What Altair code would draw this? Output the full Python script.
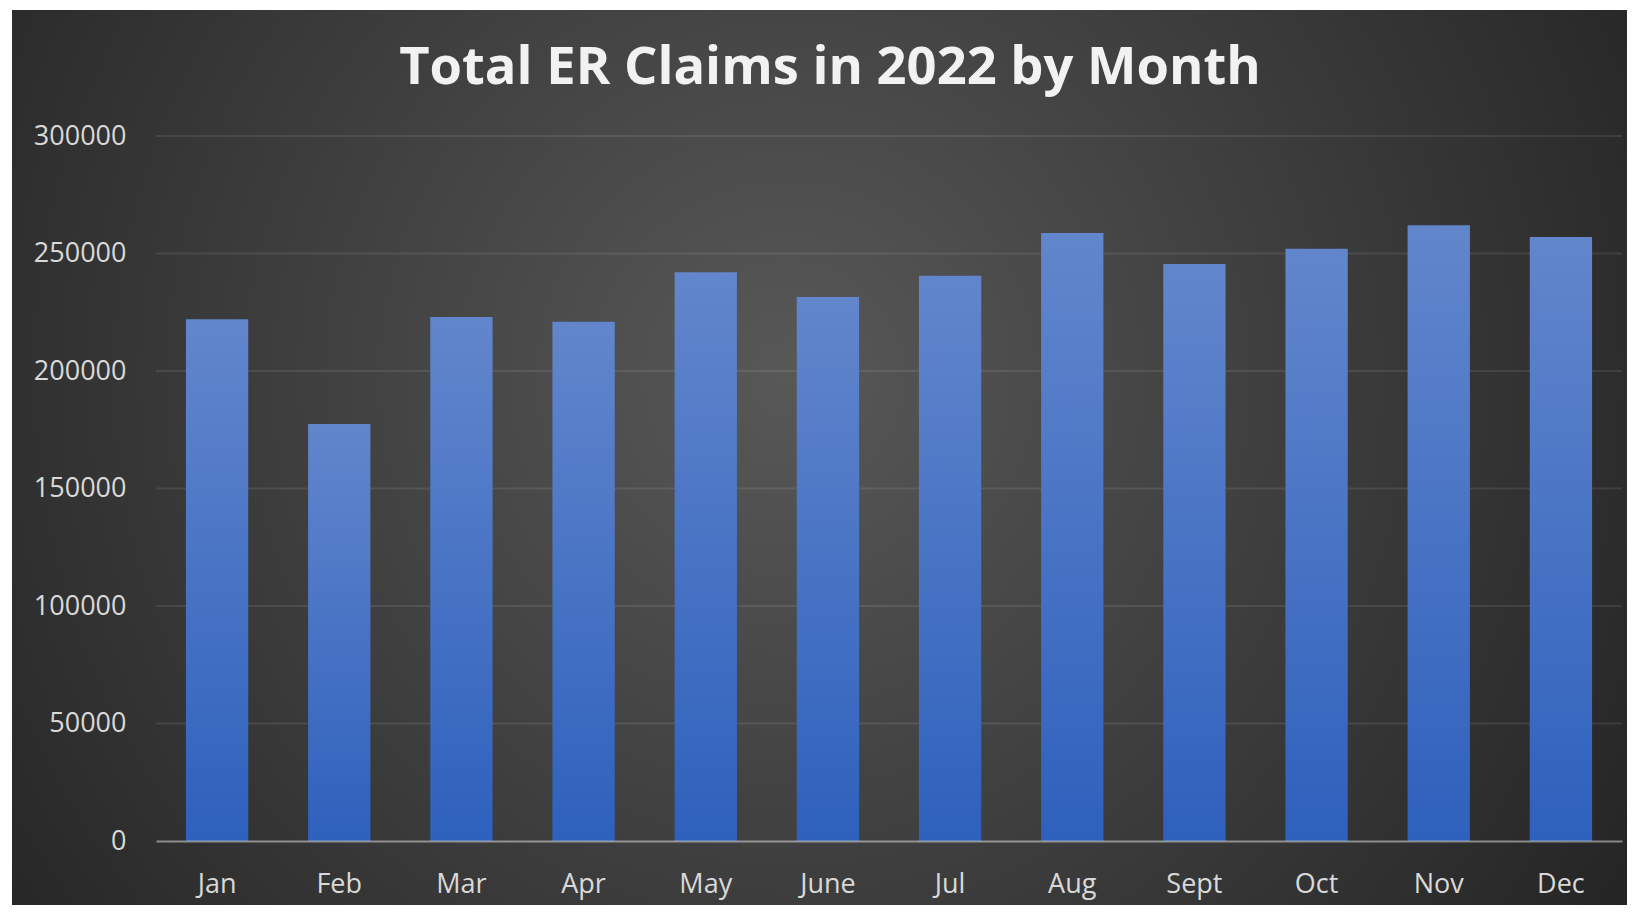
import altair as alt
import pandas as pd

months = ["Jan", "Feb", "Mar", "Apr", "May", "June", "Jul", "Aug", "Sept", "Oct", "Nov", "Dec"]
claims = [222000, 177500, 223000, 221000, 242000, 231500, 240500, 258700, 245500, 252000, 262000, 257000]
tick_values = [0, 50000, 100000, 150000, 200000, 250000, 300000]
grid_values = [50000, 100000, 150000, 200000, 250000, 300000]

W, H = 1466, 705
PAD = {"left": 148, "top": 128, "right": 5, "bottom": 64}

df = pd.DataFrame({"month": months, "claims": claims})
grid_df = pd.DataFrame({"claims": grid_values})
one = pd.DataFrame({"a": [0]})

yscale = alt.Scale(domain=[0, 300000], nice=False)
xscale = alt.Scale(paddingInner=0.49, paddingOuter=0.245)

xaxis = alt.Axis(
    labelAngle=0, labelAlign="center", labelFontSize=27, labelColor="#d9d9d9",
    labelFont="Open Sans", labelPadding=51, labelBaseline="alphabetic",
    ticks=False, tickSize=0, domain=True, domainColor="white",
    domainOpacity=0.45, domainWidth=2, grid=False, zindex=1, title=None,
)
yaxis = alt.Axis(
    values=tick_values, format="d", labelFontSize=27, labelColor="#d9d9d9",
    labelFont="Open Sans", labelPadding=30, ticks=False, tickSize=0,
    domain=False, grid=False, zindex=1, title=None,
)
xenc = alt.X("month:N", sort=months, scale=xscale, axis=xaxis)
yenc = alt.Y("claims:Q", scale=yscale, axis=yaxis)

bg = alt.Chart(one).mark_rect(
    color={
        "gradient": "radial",
        "x1": 0.48, "y1": 0.45, "r1": 0,
        "x2": 0.48, "y2": 0.45, "r2": 0.62,
        "stops": [
            {"offset": 0, "color": "#585858"},
            {"offset": 1, "color": "#242424"},
        ],
    }
).encode(
    x=alt.value(-(PAD["left"] - 4)),
    x2=alt.value(W + PAD["right"]),
    y=alt.value(-(PAD["top"] - 2)),
    y2=alt.value(H + PAD["bottom"]),
)

grid = alt.Chart(grid_df).mark_rule(color="white", opacity=0.09, strokeWidth=2).encode(y=yenc)

shadow1 = alt.Chart(df).mark_bar(
    color="black", opacity=0.10, width=alt.RelativeBandSize(0.57), xOffset=3
).encode(x=xenc, y=yenc)
shadow2 = alt.Chart(df).mark_bar(
    color="black", opacity=0.14, width=alt.RelativeBandSize(0.53), xOffset=2
).encode(x=xenc, y=yenc)

bars = alt.Chart(df).mark_bar(
    color={
        "gradient": "linear",
        "x1": 0, "y1": 0, "x2": 0, "y2": 1,
        "stops": [
            {"offset": 0, "color": "#6286cc"},
            {"offset": 1, "color": "#2e61bd"},
        ],
    }
).encode(x=xenc, y=yenc)

chart = alt.layer(bg, grid, shadow1, shadow2, bars).properties(
    width=W,
    height=H,
    padding=PAD,
    autosize=alt.AutoSizeParams(type="none"),
    title=alt.TitleParams(
        "Total ER Claims in 2022 by Month",
        font="Open Sans", fontSize=52.5, fontWeight="bold", color="#f2f2f2",
        anchor="middle", baseline="alphabetic", offset=-126, dx=-59,
    ),
).configure_view(stroke=None).configure(background="white")

chart.save("out.html", embed_options={"renderer": "svg", "actions": False})
